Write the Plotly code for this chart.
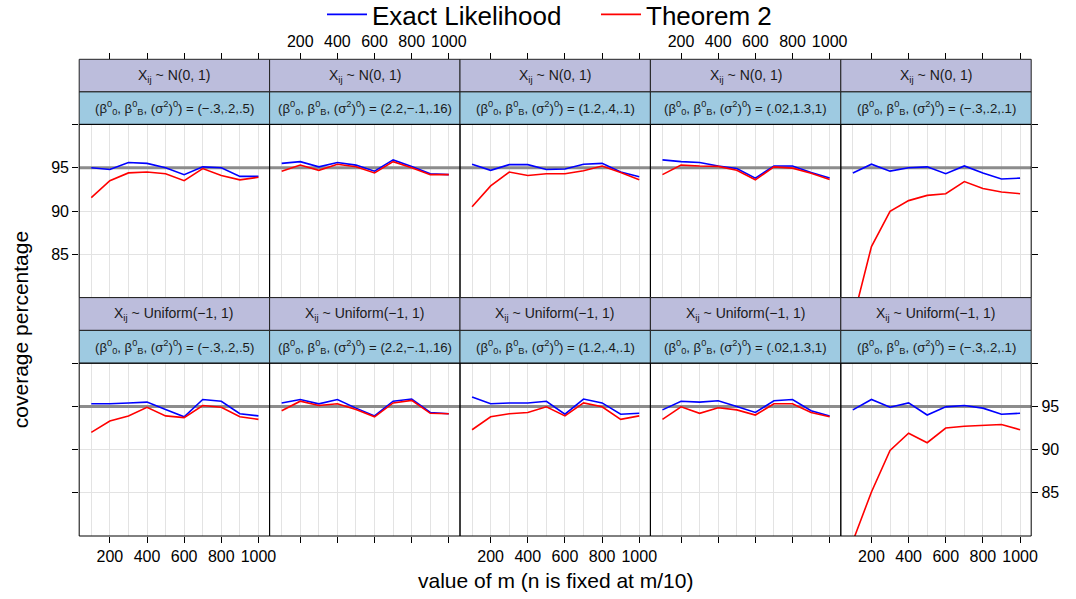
import plotly.graph_objects as go

# ---------------- data ----------------
m_values = [100, 200, 300, 400, 500, 600, 700, 800, 900, 1000]
x_tick_vals = [200, 400, 600, 800, 1000]
y_tick_vals = [85, 90, 95, 100]
y_tick_text = ["85", "90", "95", ""]
y_grid_vals = [85, 90]
nominal_level = 95

dist_labels = ["X<sub>ij</sub> ~ N(0, 1)", "X<sub>ij</sub> ~ Uniform(−1, 1)"]
param_prefix = "(β<sup>0</sup><sub>0</sub>, β<sup>0</sup><sub>B</sub>, (σ<sup>2</sup>)<sup>0</sup>) = "
param_values = ["(−.3,.2,.5)", "(2.2,−.1,.16)", "(1.2,.4,.1)", "(.02,1.3,1)", "(−.3,.2,.1)"]

exact_normal = [
    [95.0, 94.8, 95.6, 95.5, 95.0, 94.2, 95.1, 95.0, 94.0, 94.0],
    [95.5, 95.7, 95.1, 95.6, 95.3, 94.6, 95.9, 95.15, 94.3, 94.2],
    [95.4, 94.7, 95.35, 95.35, 94.8, 94.85, 95.4, 95.5, 94.5, 93.95],
    [95.9, 95.7, 95.6, 95.2, 94.9, 93.8, 95.2, 95.2, 94.45, 93.8],
    [94.4, 95.4, 94.6, 95.0, 95.1, 94.3, 95.2, 94.4, 93.7, 93.8],
]
theorem2_normal = [
    [91.55, 93.5, 94.4, 94.5, 94.3, 93.5, 94.9, 94.1, 93.6, 93.9],
    [94.6, 95.3, 94.7, 95.4, 95.1, 94.4, 95.7, 95.0, 94.2, 94.2],
    [90.5, 92.9, 94.5, 94.1, 94.3, 94.3, 94.65, 95.2, 94.45, 93.6],
    [94.2, 95.3, 95.2, 95.15, 94.7, 93.6, 95.1, 94.95, 94.35, 93.65],
    [77.4, 85.9, 89.96, 91.2, 91.8, 92.0, 93.4, 92.6, 92.2, 92.0],
]
exact_uniform = [
    [95.3, 95.3, 95.4, 95.5, 94.65, 93.8, 95.8, 95.6, 94.15, 93.9],
    [95.4, 95.8, 95.3, 95.8, 94.8, 93.9, 95.6, 95.85, 94.3, 94.15],
    [96.1, 95.3, 95.4, 95.4, 95.6, 94.1, 95.85, 95.4, 94.1, 94.2],
    [94.6, 95.6, 95.5, 95.65, 95.0, 94.3, 95.65, 95.8, 94.5, 93.9],
    [94.6, 95.8, 94.9, 95.4, 94.0, 94.95, 95.1, 94.8, 94.1, 94.2],
]
theorem2_uniform = [
    [92.0, 93.3, 93.9, 94.9, 93.9, 93.7, 95.1, 94.9, 93.8, 93.5],
    [94.5, 95.6, 95.1, 95.3, 94.65, 93.8, 95.4, 95.7, 94.2, 94.15],
    [92.3, 93.8, 94.15, 94.3, 94.95, 93.9, 95.4, 94.95, 93.5, 93.9],
    [93.5, 94.95, 94.2, 94.85, 94.6, 94.0, 95.3, 95.3, 94.3, 93.8],
    [79.4, 85.1, 89.9, 91.9, 90.8, 92.5, 92.7, 92.8, 92.9, 92.3],
]

exact_rows = [exact_normal, exact_uniform]
theorem_rows = [theorem2_normal, theorem2_uniform]

# ---------------- layout geometry ----------------
W, H = 1076, 599
FONT = "Liberation Sans, Arial, sans-serif"
X_RANGE = [35, 1060]
Y_RANGE = [80, 100]
col_edges = [79.2 + 190.4 * i for i in range(6)]
rows = [
    dict(strip_top=59.3, strip_mid=91.9, panel_top=124.4, panel_bot=297.6),
    dict(strip_top=297.6, strip_mid=330.4, panel_top=363.2, panel_bot=536.0),
]
STRIP1 = "#BCBDDC"
STRIP2 = "#9ECAE1"
GRID = "#E3E3E3"


def fx(px):
    return px / W


def fy(py):
    return 1 - py / H


fig = go.Figure()
shapes = []
annotations = []
layout_axes = {}

for r in range(2):
    g = rows[r]
    for c in range(5):
        k = r * 5 + c + 1
        xn = "x" if k == 1 else f"x{k}"
        yn = "y" if k == 1 else f"y{k}"
        xkey = "xaxis" if k == 1 else f"xaxis{k}"
        ykey = "yaxis" if k == 1 else f"yaxis{k}"
        left, right = col_edges[c], col_edges[c + 1]

        # reference line at the nominal level (drawn under the data lines)
        fig.add_trace(go.Scatter(
            x=X_RANGE, y=[nominal_level, nominal_level], mode="lines",
            line=dict(color="#8C8C8C", width=3), showlegend=False,
            xaxis=xn, yaxis=yn, hoverinfo="skip"))
        fig.add_trace(go.Scatter(
            x=m_values, y=exact_rows[r][c], mode="lines",
            line=dict(color="#0000FF", width=1.6),
            name="Exact Likelihood", legendgroup="exact",
            showlegend=(k == 1), xaxis=xn, yaxis=yn, hoverinfo="skip"))
        fig.add_trace(go.Scatter(
            x=m_values, y=theorem_rows[r][c], mode="lines",
            line=dict(color="#FF0000", width=1.6),
            name="Theorem 2", legendgroup="thm",
            showlegend=(k == 1), xaxis=xn, yaxis=yn, hoverinfo="skip"))

        xa = dict(
            domain=[fx(left), fx(right)], range=X_RANGE,
            tickmode="array", tickvals=x_tick_vals,
            ticks="outside", ticklen=6, tickcolor="black", tickwidth=1,
            showgrid=True, gridcolor=GRID, gridwidth=1,
            minor=dict(dtick=100, tick0=0, showgrid=True, gridcolor=GRID, ticks=""),
            zeroline=False, showline=False,
            tickfont=dict(family=FONT, size=16, color="black"),
            fixedrange=True,
        )
        if r == 0:
            xa.update(side="top", anchor="free", position=fy(g["strip_top"]),
                      showticklabels=(c in (1, 3)))
        else:
            xa.update(side="bottom", anchor=yn, showticklabels=(c in (0, 2, 4)))
        layout_axes[xkey] = xa

        ya = dict(
            domain=[fy(g["panel_bot"]), fy(g["panel_top"])], range=Y_RANGE,
            tickmode="array", tickvals=y_tick_vals, ticktext=y_tick_text,
            showgrid=False,
            minor=dict(tickmode="array", tickvals=y_grid_vals, showgrid=True,
                       gridcolor=GRID, ticks=""),
            zeroline=False, showline=False, anchor=xn,
            tickfont=dict(family=FONT, size=16, color="black"),
            fixedrange=True,
        )
        if c == 0:
            ya.update(side="left", ticks="outside", ticklen=6, tickcolor="black",
                      showticklabels=(r == 0))
        elif c == 4:
            ya.update(side="right", ticks="outside", ticklen=6, tickcolor="black",
                      showticklabels=(r == 1))
        else:
            ya.update(ticks="", showticklabels=False)
        layout_axes[ykey] = ya

        # strips
        shapes.append(dict(type="rect", xref="paper", yref="paper",
                           x0=fx(left), x1=fx(right), y0=fy(g["strip_mid"]), y1=fy(g["strip_top"]),
                           fillcolor=STRIP1, line=dict(color="#222222", width=1), layer="above"))
        shapes.append(dict(type="rect", xref="paper", yref="paper",
                           x0=fx(left), x1=fx(right), y0=fy(g["panel_top"]), y1=fy(g["strip_mid"]),
                           fillcolor=STRIP2, line=dict(color="#222222", width=1), layer="above"))
        # panel border
        shapes.append(dict(type="rect", xref="paper", yref="paper",
                           x0=fx(left), x1=fx(right), y0=fy(g["panel_bot"]), y1=fy(g["panel_top"]),
                           fillcolor="rgba(0,0,0,0)", line=dict(color="black", width=1), layer="above"))
        # strip texts
        cx = fx((left + right) / 2)
        annotations.append(dict(x=cx, y=fy((g["strip_top"] + g["strip_mid"]) / 2),
                                xref="paper", yref="paper", showarrow=False,
                                text=dist_labels[r], xanchor="center", yanchor="middle",
                                font=dict(family=FONT, size=14, color="#1a1a1a")))
        annotations.append(dict(x=cx, y=fy((g["strip_mid"] + g["panel_top"]) / 2),
                                xref="paper", yref="paper", showarrow=False,
                                text=param_prefix + param_values[c], xanchor="center", yanchor="middle",
                                font=dict(family=FONT, size=13.2, color="#1a1a1a")))

annotations.append(dict(x=fx(20), y=fy((rows[0]["panel_top"] + rows[1]["panel_bot"]) / 2),
                        xref="paper", yref="paper", showarrow=False, textangle=-90,
                        text="coverage percentage", xanchor="center", yanchor="middle",
                        font=dict(family=FONT, size=21, color="black")))
annotations.append(dict(x=fx((col_edges[0] + col_edges[-1]) / 2), y=fy(580),
                        xref="paper", yref="paper", showarrow=False,
                        text="value of m (n is fixed at m/10)", xanchor="center", yanchor="middle",
                        font=dict(family=FONT, size=21, color="black")))

fig.update_layout(
    width=W, height=H,
    margin=dict(l=0, r=0, t=0, b=0, autoexpand=False),
    paper_bgcolor="white", plot_bgcolor="white",
    showlegend=True,
    legend=dict(orientation="h", x=fx(322), xanchor="left", y=fy(-9), yanchor="top",
                font=dict(family=FONT, size=26, color="black"),
                entrywidth=219, entrywidthmode="pixels",
                bgcolor="rgba(0,0,0,0)", itemwidth=40, tracegroupgap=0),
    shapes=shapes, annotations=annotations,
    **layout_axes,
)

fig.write_html("out.html")
